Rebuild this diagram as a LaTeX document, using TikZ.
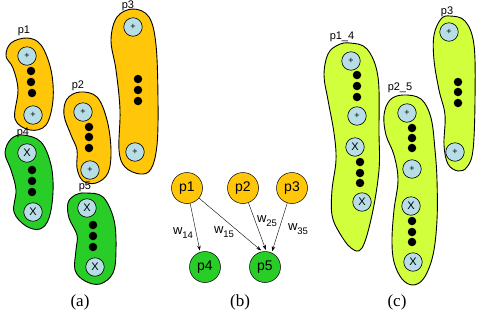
\documentclass[tikz,border=0pt]{standalone}
\usepackage{fontspec}
\setmainfont{Liberation Serif}
\setsansfont{Liberation Sans}
\usetikzlibrary{arrows.meta}
\definecolor{orng}{RGB}{255,198,10}
\definecolor{grn}{RGB}{40,205,40}
\definecolor{lime}{RGB}{210,255,60}
\definecolor{cblu}{RGB}{183,222,230}
\newcommand{\wlab}[1]{w\raisebox{-3.5pt}{\fontsize{9.5}{9.5}\selectfont #1}}
\begin{document}
\begin{tikzpicture}[x=1pt,y=-1pt,
 blob/.style={draw=black, line width=0.9pt},
 pc/.style={circle,draw=black,line width=0.6pt,fill=cblu,minimum size=18.5pt,inner sep=0pt,font=\sffamily\fontsize{9}{9}\selectfont},
 xc/.style={pc,font=\sffamily\fontsize{11}{11}\selectfont},
 dt/.style={circle,fill=black,minimum size=8.5pt,inner sep=0pt},
 lbl/.style={font=\sffamily\fontsize{11}{11}\selectfont,inner sep=0pt},
 gn/.style={circle,draw=black,line width=0.5pt,minimum size=31pt,inner sep=0pt,font=\sffamily\fontsize{14}{14}\selectfont},
 wl/.style={font=\sffamily\fontsize{13}{13}\selectfont,inner sep=0pt},
 capt/.style={font=\fontsize{17}{17}\selectfont,inner sep=0pt},
 arr/.style={-{Stealth[length=5pt,width=3.5pt]},line width=0.4pt,shorten >=1.5pt}]
\useasboundingbox (0,0) rectangle (477,322);
% ---------------- (a) ----------------
\draw[blob,fill=orng] plot[smooth cycle,tension=0.6] coordinates {(27,38) (41,45) (51,70) (53,100) (46,125) (30,130) (15,119) (18,90) (13,68) (6,56) (11,43)};
\draw[blob,fill=orng] plot[smooth cycle,tension=0.6] coordinates {(80,92) (97,97) (107,120) (111,150) (108,173) (96,183) (83,181) (77,168) (77,150) (71,135) (64,115) (67,99)};
\draw[blob,fill=orng] plot[smooth cycle,tension=0.6] coordinates {(133,9) (149,17) (156,45) (158,100) (157,145) (151,169) (140,174) (125,167) (119,150) (120,110) (116,70) (111,40) (117,17)};
\draw[blob,fill=grn] plot[smooth cycle,tension=0.6] coordinates {(23,135) (41,142) (51,165) (53,192) (49,218) (40,229) (26,226) (14,212) (16,190) (11,170) (5,153) (11,139)};
\draw[blob,fill=grn] plot[smooth cycle,tension=0.6] coordinates {(86,193) (103,197) (114,220) (116,250) (113,273) (100,284) (85,281) (75,270) (76,250) (77,235) (69,218) (68,203) (75,195)};
\node[lbl] (la1) at (24,31) {p1};
\node[lbl] (la2) at (78,86) {p2};
\node[lbl] (la3) at (128,6) {p3};
\node[lbl] (la4) at (23,133) {p4};
\node[lbl] (la5) at (85,187) {p5};
% p1
\node[pc] (a1c1) at (27,56) {+};
\node[dt] (a1d1) at (31,71) {}; \node[dt] (a1d2) at (31,82) {}; \node[dt] (a1d3) at (32,93) {};
\node[pc] (a1c2) at (33,115) {+};
% p2
\node[pc] (a2c1) at (83,112) {+};
\node[dt] (a2d1) at (89,127) {}; \node[dt] (a2d2) at (89,137) {}; \node[dt] (a2d3) at (89,148) {};
\node[pc] (a2c2) at (90,170) {+};
% p3
\node[pc] (a3c1) at (133,27) {+};
\node[dt] (a3d1) at (138,79) {}; \node[dt] (a3d2) at (138,90) {}; \node[dt] (a3d3) at (138,101) {};
\node[pc] (a3c2) at (135,152) {+};
% p4
\node[xc] (a4c1) at (27,153) {X};
\node[dt] (a4d1) at (32,170) {}; \node[dt] (a4d2) at (32,181) {}; \node[dt] (a4d3) at (32,192) {};
\node[xc] (a4c2) at (33,212) {X};
% p5
\node[xc] (a5c1) at (87,208) {X};
\node[dt] (a5d1) at (93,225) {}; \node[dt] (a5d2) at (93,236) {}; \node[dt] (a5d3) at (93,247) {};
\node[xc] (a5c2) at (95,267) {X};
\node[capt] (capa) at (80,302) {(a)};
% ---------------- (b) ----------------
\node[gn,fill=orng] (b1) at (187,188) {p1};
\node[gn,fill=orng] (b2) at (243,188) {p2};
\node[gn,fill=orng] (b3) at (292,188) {p3};
\node[gn,fill=grn] (b4) at (205,267) {p4};
\node[gn,fill=grn] (b5) at (265,267) {p5};
\draw[arr] (b1) -- (b4.108);
\draw[arr] (b1) -- (b5.100);
\draw[arr] (b2) -- (b5.85);
\draw[arr] (b3) -- (b5.65);
\node[wl] (w14) at (183,233) {\wlab{14}};
\node[wl] (w15) at (224,232) {\wlab{15}};
\node[wl] (w25) at (267,221) {\wlab{25}};
\node[wl] (w35) at (298,229) {\wlab{35}};
\node[capt] (capb) at (240,302) {(b)};
% ---------------- (c) ----------------
\draw[blob,fill=lime] plot[smooth cycle,tension=0.6] coordinates {(350,43) (367,49) (378,77) (379,133) (379,170) (372,215) (362,248) (351,248) (339,232) (332,215) (332,190) (336,160) (334,133) (328,100) (324,75) (328,54) (338,45)};
\draw[blob,fill=lime] plot[smooth cycle,tension=0.6] coordinates {(403,95) (421,99) (431,118) (435,150) (437,180) (437,220) (433,255) (424,278) (413,285) (402,279) (394,262) (392,240) (394,210) (398,180) (394,155) (386,135) (384,115) (390,100)};
\draw[blob,fill=lime] plot[smooth cycle,tension=0.6] coordinates {(450,16) (465,21) (474,45) (475,100) (473,150) (467,167) (458,171) (448,164) (444,145) (445,115) (439,90) (434,60) (434,35) (441,19)};
\node[lbl] (lc1) at (342,37) {p1\_4};
\node[lbl] (lc2) at (400,88) {p2\_5};
\node[lbl] (lc3) at (447,12) {p3};
% p1_4
\node[pc] (c1c1) at (351,61) {+};
\node[dt] (c1d1) at (357,75) {}; \node[dt] (c1d2) at (357,86) {}; \node[dt] (c1d3) at (357,97) {};
\node[pc] (c1c2) at (357,116) {+};
\node[xc] (c1c3) at (355,147) {X};
\node[dt] (c1d4) at (360,162) {}; \node[dt] (c1d5) at (360,173) {}; \node[dt] (c1d6) at (360,183) {};
\node[xc] (c1c4) at (362,202) {X};
% p2_5
\node[pc] (c2c1) at (407,113) {+};
\node[dt] (c2d1) at (412,128) {}; \node[dt] (c2d2) at (412,138) {}; \node[dt] (c2d3) at (412,148) {};
\node[pc] (c2c2) at (412,169) {+};
\node[xc] (c2c3) at (411,206) {X};
\node[dt] (c2d4) at (412,221) {}; \node[dt] (c2d5) at (412,232) {}; \node[dt] (c2d6) at (412,242) {};
\node[xc] (c2c4) at (413,262) {X};
% p3
\node[pc] (c3c1) at (449,32) {+};
\node[dt] (c3d1) at (458,82) {}; \node[dt] (c3d2) at (458,92) {}; \node[dt] (c3d3) at (458,103) {};
\node[pc] (c3c2) at (455,152) {+};
\node[capt] (capc) at (397,302) {(c)};
\end{tikzpicture}
\end{document}
